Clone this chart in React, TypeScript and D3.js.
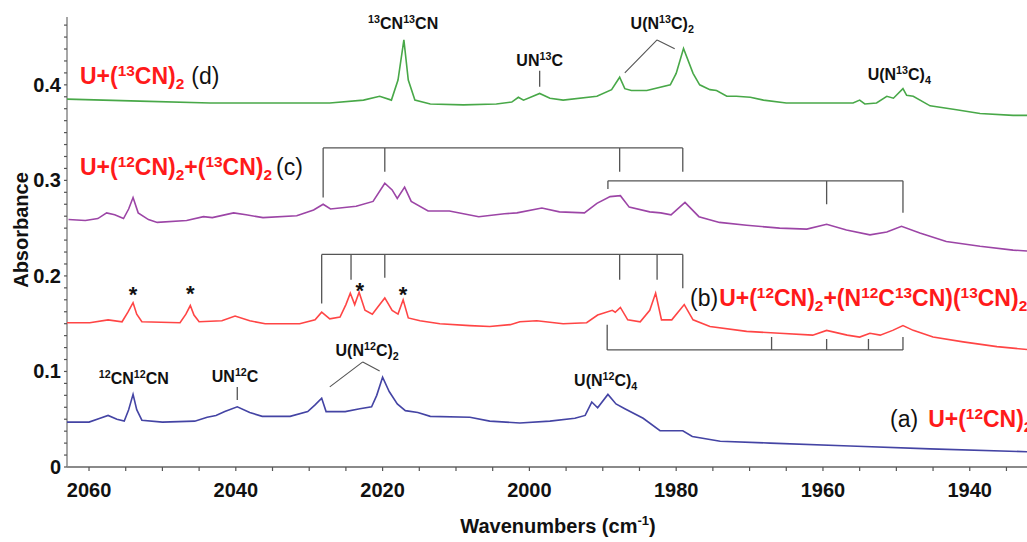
import React from 'react';
import * as d3 from 'd3';

// spectra: [wavenumber (cm-1), absorbance]
const specA: [number, number][] = [
  [2063.0, 0.047], [2060.0, 0.047], [2058.5, 0.051], [2057.4, 0.054], [2056.2, 0.050],
  [2055.2, 0.048], [2054.6, 0.060], [2054.0, 0.076], [2053.5, 0.060], [2052.8, 0.049],
  [2050.0, 0.047], [2045.6, 0.048], [2043.9, 0.052], [2042.7, 0.054], [2041.5, 0.058],
  [2039.8, 0.063], [2038.1, 0.057], [2036.4, 0.053], [2032.6, 0.053], [2030.2, 0.058],
  [2029.2, 0.065], [2028.3, 0.072], [2027.7, 0.058], [2025.1, 0.058], [2023.1, 0.061],
  [2021.5, 0.063], [2020.8, 0.075], [2020.0, 0.094], [2019.1, 0.079], [2018.0, 0.066],
  [2016.9, 0.059], [2015.2, 0.057], [2013.5, 0.053], [2008.1, 0.052], [2005.4, 0.048],
  [2001.3, 0.046], [1997.2, 0.048], [1993.8, 0.051], [1992.4, 0.054], [1991.5, 0.068],
  [1990.7, 0.062], [1989.3, 0.076], [1988.2, 0.066], [1987.0, 0.061], [1984.5, 0.051],
  [1982.2, 0.038], [1979.1, 0.038], [1977.8, 0.032], [1974.0, 0.027], [1967.2, 0.025],
  [1956.3, 0.022], [1945.4, 0.019], [1932.2, 0.016],
];

const specB: [number, number][] = [
  [2063.0, 0.151], [2059.9, 0.151], [2057.4, 0.154], [2055.5, 0.152], [2054.7, 0.162],
  [2054.0, 0.172], [2053.5, 0.160], [2052.8, 0.152], [2047.6, 0.151], [2046.8, 0.160],
  [2046.2, 0.169], [2045.7, 0.159], [2045.0, 0.152], [2041.9, 0.153], [2040.1, 0.158],
  [2038.1, 0.153], [2036.0, 0.150], [2031.3, 0.150], [2029.2, 0.154], [2028.3, 0.162],
  [2027.2, 0.155], [2025.8, 0.157], [2025.0, 0.170], [2024.4, 0.182], [2023.8, 0.170],
  [2023.2, 0.183], [2022.4, 0.164], [2021.4, 0.160], [2020.6, 0.168], [2019.7, 0.177],
  [2018.7, 0.164], [2017.9, 0.160], [2017.2, 0.175], [2016.5, 0.156], [2014.9, 0.153],
  [2012.2, 0.150], [2008.1, 0.148], [2005.4, 0.147], [2002.6, 0.149], [2001.3, 0.152],
  [1999.0, 0.153], [1995.4, 0.150], [1992.2, 0.151], [1990.7, 0.159], [1988.7, 0.164],
  [1988.3, 0.162], [1987.6, 0.167], [1986.6, 0.154], [1984.9, 0.152], [1983.6, 0.164],
  [1982.8, 0.182], [1982.0, 0.154], [1980.6, 0.154], [1978.9, 0.170], [1977.7, 0.154],
  [1975.4, 0.147], [1970.4, 0.142], [1965.9, 0.140], [1961.4, 0.138], [1959.5, 0.143],
  [1956.7, 0.138], [1955.0, 0.136], [1953.6, 0.140], [1952.2, 0.138], [1950.5, 0.143],
  [1949.1, 0.148], [1947.7, 0.143], [1945.0, 0.136], [1940.9, 0.131], [1936.3, 0.126],
  [1932.2, 0.123],
];

const specC: [number, number][] = [
  [2062.8, 0.259], [2060.5, 0.258], [2058.8, 0.260], [2057.6, 0.266], [2056.5, 0.264],
  [2055.3, 0.260], [2054.6, 0.270], [2054.0, 0.282], [2053.3, 0.266], [2051.9, 0.259],
  [2050.7, 0.256], [2046.7, 0.258], [2044.4, 0.262], [2043.2, 0.261], [2040.3, 0.266],
  [2038.6, 0.264], [2036.3, 0.261], [2031.7, 0.263], [2029.4, 0.269], [2028.1, 0.275],
  [2027.1, 0.270], [2023.6, 0.273], [2021.3, 0.278], [2019.7, 0.297], [2018.7, 0.290],
  [2018.0, 0.281], [2017.0, 0.293], [2016.1, 0.278], [2013.8, 0.268], [2010.9, 0.268],
  [2006.9, 0.262], [2003.4, 0.265], [2001.7, 0.266], [1998.3, 0.271], [1995.9, 0.267],
  [1992.5, 0.266], [1990.8, 0.276], [1989.0, 0.283], [1987.6, 0.284], [1986.4, 0.272],
  [1983.6, 0.267], [1982.1, 0.266], [1980.7, 0.264], [1978.8, 0.277], [1976.9, 0.262],
  [1974.1, 0.256], [1970.4, 0.253], [1965.9, 0.250], [1962.2, 0.249], [1959.5, 0.254],
  [1956.8, 0.248], [1953.6, 0.243], [1951.3, 0.246], [1949.3, 0.252], [1946.8, 0.245],
  [1943.2, 0.236], [1938.6, 0.231], [1934.1, 0.227], [1932.2, 0.226],
];

const specD: [number, number][] = [
  [2063.0, 0.385], [2053.1, 0.383], [2043.5, 0.381], [2031.3, 0.381], [2027.2, 0.381],
  [2022.6, 0.384], [2020.4, 0.388], [2018.8, 0.384], [2017.9, 0.405], [2017.1, 0.447],
  [2016.5, 0.405], [2015.6, 0.384], [2013.5, 0.380], [2009.0, 0.379], [2004.5, 0.380],
  [2002.4, 0.382], [2001.5, 0.387], [2000.8, 0.384], [1998.6, 0.391], [1997.2, 0.386],
  [1995.4, 0.384], [1990.8, 0.388], [1988.8, 0.395], [1987.7, 0.408], [1987.0, 0.396],
  [1986.1, 0.394], [1984.0, 0.394], [1980.8, 0.400], [1980.0, 0.412], [1979.0, 0.438],
  [1977.7, 0.412], [1976.8, 0.400], [1975.4, 0.395], [1974.5, 0.394], [1973.1, 0.388],
  [1971.8, 0.388], [1969.9, 0.387], [1968.1, 0.384], [1965.0, 0.381], [1959.5, 0.381],
  [1955.9, 0.381], [1955.0, 0.384], [1954.3, 0.380], [1952.7, 0.381], [1951.3, 0.388],
  [1950.4, 0.386], [1949.1, 0.396], [1948.6, 0.389], [1947.7, 0.388], [1945.4, 0.378],
  [1941.8, 0.374], [1938.6, 0.370], [1934.1, 0.368], [1932.2, 0.368],
];

const xTickLabels = [2060, 2040, 2020, 2000, 1980, 1960, 1940];
const yTickLabels = [0, 0.1, 0.2, 0.3, 0.4];

// bracket: level absorbance, then [wavenumber, end absorbance] per leg
const bracketCTop = { level: 0.334, legs: [[2028.1, 0.282], [2019.7, 0.309], [1987.7, 0.309], [1979.1, 0.309]] };
const bracketCLow = { level: 0.2995, legs: [[1989.3, 0.291], [1959.5, 0.275], [1949.1, 0.266]] };
const bracketBTop = { level: 0.2225, legs: [[2028.3, 0.171], [2024.3, 0.196], [2019.7, 0.198], [1987.7, 0.196], [1982.6, 0.196], [1979.1, 0.187]] };
const bracketBLow = { level: 0.1225, legs: [[1989.4, 0.149], [1967.0, 0.136], [1959.5, 0.134], [1953.8, 0.134], [1949.1, 0.136]] };

const stars: [number, number][] = [[2054.0, 0.1853], [2046.2, 0.1864], [2023.1, 0.1895], [2017.2, 0.1853]];

const FONT = 'Liberation Sans, Arial, sans-serif';
const RED = '#ff1a1a';
const INK = '#111';
const LINE_GRAY = '#555';

type Seg = { s: string; fill?: string; weight?: string | number; dx?: number };

function Rich({ x, y, segs, size, anchor = 'start' }: { x: number; y: number; segs: Seg[]; size: number; anchor?: string }) {
  let cur = 0;
  const out: React.ReactNode[] = [];
  let k = 0;
  segs.forEach((seg) => {
    const bits = seg.s.match(/(\^[0-9]+|_[0-9]+|[^\^_]+)/g) || [];
    bits.forEach((b, bi) => {
      let kind = 0;
      let t = b;
      if (b[0] === '^') { kind = 1; t = b.slice(1); }
      if (b[0] === '_') { kind = 2; t = b.slice(1); }
      const target = kind === 1 ? -size * 0.36 : kind === 2 ? size * 0.22 : 0;
      const dy = target - cur;
      cur = target;
      out.push(
        <tspan key={k++} dy={dy} dx={bi === 0 ? seg.dx || 0 : 0} fontSize={kind ? size * 0.67 : size}
          fill={seg.fill || INK} fontWeight={seg.weight ?? 'bold'}>{t}</tspan>
      );
    });
  });
  return (
    <text x={x} y={y} textAnchor={anchor} fontFamily={FONT} fontSize={size}>{out}</text>
  );
}

export default function App() {
  const x = d3.scaleLinear().domain([2063, 1932.2]).range([67, 1027]);
  const y = d3.scaleLinear().domain([0, 0.471]).range([467, 17]);
  const line = d3.line<[number, number]>().x((d) => x(d[0])).y((d) => y(d[1]));

  const xMinor = d3.range(2060, 1930, -5);
  const yMinor = d3.range(0, 0.47, 0.0125);

  const bracket = (b: { level: number; legs: number[][] }, key: string) => {
    const ws = b.legs.map((l) => l[0]);
    let d = `M${x(d3.max(ws)!)},${y(b.level)}H${x(d3.min(ws)!)}`;
    b.legs.forEach((l) => { d += `M${x(l[0])},${y(b.level)}V${y(l[1])}`; });
    return <path key={key} d={d} fill="none" stroke={LINE_GRAY} strokeWidth={1.3} />;
  };

  const seg = (a: [number, number], b: [number, number]) =>
    `M${x(a[0])},${y(a[1])}L${x(b[0])},${y(b[1])}`;

  return (
    <svg width={1027} height={542} style={{ position: 'absolute', left: 0, top: 0, background: '#fff' }}>
      {/* axes */}
      <line x1={67} x2={1027} y1={y(0)} y2={y(0)} stroke="#8a8a8a" strokeWidth={2} />
      <line x1={67} x2={67} y1={y(0)} y2={y(0.471)} stroke="#8a8a8a" strokeWidth={1.5} />
      {xMinor.map((w) => (
        <line key={w} x1={x(w)} x2={x(w)} y1={y(0)} y2={y(0) + 4} stroke="#555" strokeWidth={1.2} />
      ))}
      {yMinor.map((v, i) => (
        <line key={i} x1={64} x2={67} y1={y(v)} y2={y(v)} stroke="#555" strokeWidth={1.2} />
      ))}
      {xTickLabels.map((w) => (
        <text key={w} x={x(w)} y={497} textAnchor="middle" fontFamily={FONT} fontWeight="bold" fontSize={20} fill={INK}>{w}</text>
      ))}
      {yTickLabels.map((v) => (
        <text key={v} x={61} y={y(v) + 7} textAnchor="end" fontFamily={FONT} fontWeight="bold" fontSize={20} fill={INK}>{v}</text>
      ))}
      <text x={558} y={533} textAnchor="middle" fontFamily={FONT} fontWeight="bold" fontSize={20} fill={INK}>
        Wavenumbers (cm<tspan dy={-8} fontSize={13}>-1</tspan><tspan dy={8}>)</tspan>
      </text>
      <text transform="translate(28,230) rotate(-90)" textAnchor="middle" fontFamily={FONT} fontWeight="bold" fontSize={20} fill={INK}>Absorbance</text>

      {/* spectra */}
      <path d={line(specA)!} fill="none" stroke="#4444a4" strokeWidth={1.6} />
      <path d={line(specB)!} fill="none" stroke="#ff4545" strokeWidth={1.6} />
      <path d={line(specC)!} fill="none" stroke="#9c45a6" strokeWidth={1.6} />
      <path d={line(specD)!} fill="none" stroke="#48a848" strokeWidth={1.6} />

      {/* brackets */}
      {bracket(bracketCTop, 'ct')}
      {bracket(bracketCLow, 'cl')}
      {bracket(bracketBTop, 'bt')}
      {bracket(bracketBLow, 'bl')}

      {/* annotation leaders */}
      <path d={seg([1998.6, 0.4147], [1998.6, 0.398])} stroke={LINE_GRAY} strokeWidth={1.3} fill="none" />
      <path d={seg([1982.6, 0.447], [1987.0, 0.4126]) + seg([1982.6, 0.447], [1980.2, 0.4377])} stroke={LINE_GRAY} strokeWidth={1.1} fill="none" />
      <path d={seg([2039.8, 0.0838], [2039.8, 0.0702])} stroke={LINE_GRAY} strokeWidth={1.3} fill="none" />
      <path d={seg([2022.7, 0.110], [2027.2, 0.0838]) + seg([2022.7, 0.110], [2020.4, 0.1005])} stroke={LINE_GRAY} strokeWidth={1.1} fill="none" />

      {stars.map(([w, a], i) => (
        <text key={i} x={x(w)} y={y(a) + 12} textAnchor="middle" fontFamily={FONT} fontWeight="bold" fontSize={22} fill={INK}>*</text>
      ))}

      {/* peak labels */}
      <Rich x={x(2017.2)} y={29} size={16} anchor="middle" segs={[{ s: '^13CN^13CN' }]} />
      <Rich x={x(1998.6)} y={66} size={16} anchor="middle" segs={[{ s: 'UN^13C' }]} />
      <Rich x={x(1981.9)} y={29} size={16} anchor="middle" segs={[{ s: 'U(N^13C)_2' }]} />
      <Rich x={x(1949.6)} y={80} size={16} anchor="middle" segs={[{ s: 'U(N^13C)_4' }]} />
      <Rich x={x(2053.9)} y={384} size={16} anchor="middle" segs={[{ s: '^12CN^12CN' }]} />
      <Rich x={x(2040.1)} y={382} size={16} anchor="middle" segs={[{ s: 'UN^12C' }]} />
      <Rich x={x(2022.1)} y={356} size={16} anchor="middle" segs={[{ s: 'U(N^12C)_2' }]} />
      <Rich x={x(1989.6)} y={386} size={16} anchor="middle" segs={[{ s: 'U(N^12C)_4' }]} />

      {/* series labels */}
      <Rich x={80} y={84} size={23} segs={[{ s: 'U+(^13CN)_2', fill: RED }, { s: '(d)', weight: 'normal', dx: 7 }]} />
      <Rich x={80} y={175} size={23} segs={[{ s: 'U+(^12CN)_2+(^13CN)_2', fill: RED }, { s: '(c)', weight: 'normal', dx: 4 }]} />
      <Rich x={690} y={306} size={23} segs={[{ s: '(b)', weight: 'normal' }, { s: 'U+(^12CN)_2+(N^12C^13CN)(^13CN)_2', fill: RED, dx: 1 }]} />
      <Rich x={890} y={427} size={23} segs={[{ s: '(a)', weight: 'normal' }, { s: 'U+(^12CN)_2', fill: RED, dx: 10 }]} />
    </svg>
  );
}
